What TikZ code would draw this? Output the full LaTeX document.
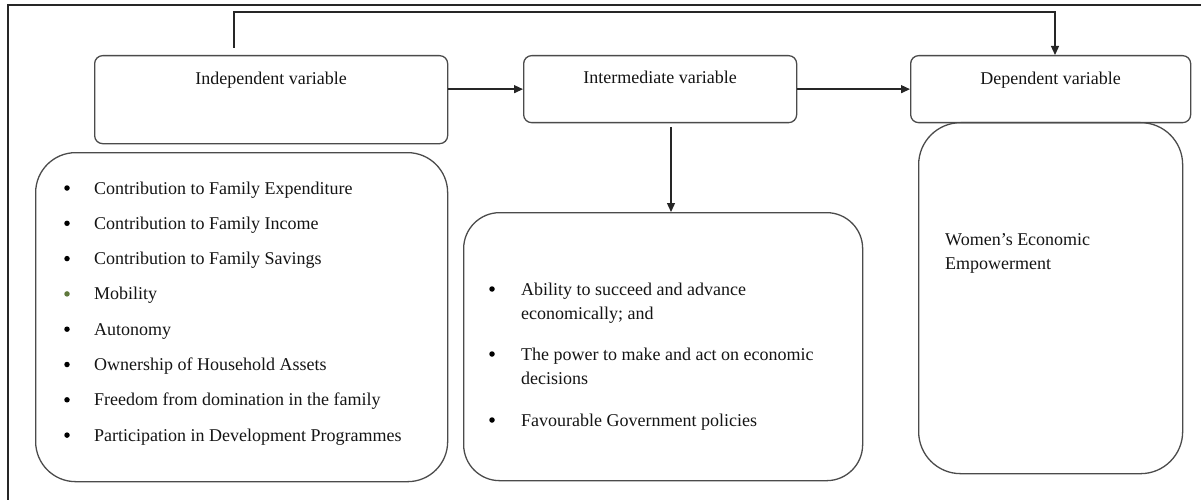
\documentclass[tikz,border=0pt]{standalone}
\usepackage{fontspec}
\setmainfont{Liberation Serif}
\usetikzlibrary{arrows.meta}
\definecolor{boxline}{RGB}{75,75,75}
\definecolor{mobgreen}{RGB}{95,120,60}
\definecolor{txt}{RGB}{20,20,20}
\begin{document}
\begin{tikzpicture}[x=1pt,y=-1pt,
  every node/.style={font=\fontsize{18}{24}\selectfont, text=txt},
  hdr/.style={draw=boxline, line width=1.3pt, rounded corners=8pt, inner sep=0pt, anchor=north west},
  listbox/.style={draw=boxline, line width=1.3pt, rounded corners=40pt, inner sep=0pt, anchor=north west},
  item/.style={anchor=base west, inner sep=0pt},
  dot/.style={circle, fill=black, inner sep=0pt, minimum size=5.5pt},
  arr/.style={draw=black!85, line width=1.3pt, -{Triangle[length=9pt,width=8pt]}},
  frameline/.style={draw=black!85, line width=1.3pt}]
\useasboundingbox (0,0) rectangle (1201,500);
\draw[frameline] (1201,5) -- (8,5) -- (8,500);

% header boxes
\node[hdr, minimum width=353pt, text height=29pt, text depth=59pt] (indep) at (94,55) {Independent variable};
\node[hdr, minimum width=273pt, text height=28pt, text depth=39pt] (inter) at (523,55) {Intermediate variable};
\node[hdr, minimum width=280pt, text height=29pt, text depth=38pt] (dep) at (910,55) {Dependent variable};

% list boxes
\node[listbox, minimum width=412pt, minimum height=329pt] (ivlist) at (35,152) {};
\node[listbox, rounded corners=36pt, minimum width=399pt, minimum height=268pt] (mvlist) at (463,212) {};
\node[listbox, rounded corners=42pt, minimum width=264pt, minimum height=351pt] (dvlist) at (918,122) {};

% left list
\node[dot] (ld1) at (67,188) {};
\node[item] (l1) at (94,194) {Contribution to Family Expenditure};
\node[dot] (ld2) at (67,223.3) {};
\node[item] (l2) at (94,229.3) {Contribution to Family Income};
\node[dot] (ld3) at (67,258.6) {};
\node[item] (l3) at (94,264.6) {Contribution to Family Savings};
\node[dot, fill=mobgreen] (ld4) at (67,293.9) {};
\node[item] (l4) at (94,299.9) {Mobility};
\node[dot] (ld5) at (67,329.2) {};
\node[item] (l5) at (94,335.2) {Autonomy};
\node[dot] (ld6) at (67,364.5) {};
\node[item] (l6) at (94,370.5) {Ownership of Household Assets};
\node[dot] (ld7) at (67,399.8) {};
\node[item] (l7) at (94,405.8) {Freedom from domination in the family};
\node[dot] (ld8) at (67,435.1) {};
\node[item] (l8) at (94,441.1) {Participation in Development Programmes};

% middle list
\node[dot] (md1) at (492,289) {};
\node[item] (m1a) at (521,295) {Ability to succeed and advance};
\node[item] (m1b) at (521,319) {economically; and};
\node[dot] (md2) at (492,354) {};
\node[item] (m2a) at (521,360) {The power to make and act on economic};
\node[item] (m2b) at (521,384) {decisions};
\node[dot] (md3) at (492,420) {};
\node[item] (m3) at (521,426) {Favourable Government policies};

% right text
\node[item] (w1) at (945,245) {Women’s Economic};
\node[item] (w2) at (945,269) {Empowerment};

% connectors
\coordinate (ts) at (234,48);
\coordinate (tc) at (1055,12);
\draw[arr] (ts) |- (tc) -- (tc |- dep.north);
\draw[arr] (indep.east |- inter.west) -- (inter.west);
\draw[arr] (inter.east) -- (inter.east -| dep.west);
\coordinate (ds) at (671,127);
\draw[arr] (ds) -- (ds |- mvlist.north);
\end{tikzpicture}
\end{document}
